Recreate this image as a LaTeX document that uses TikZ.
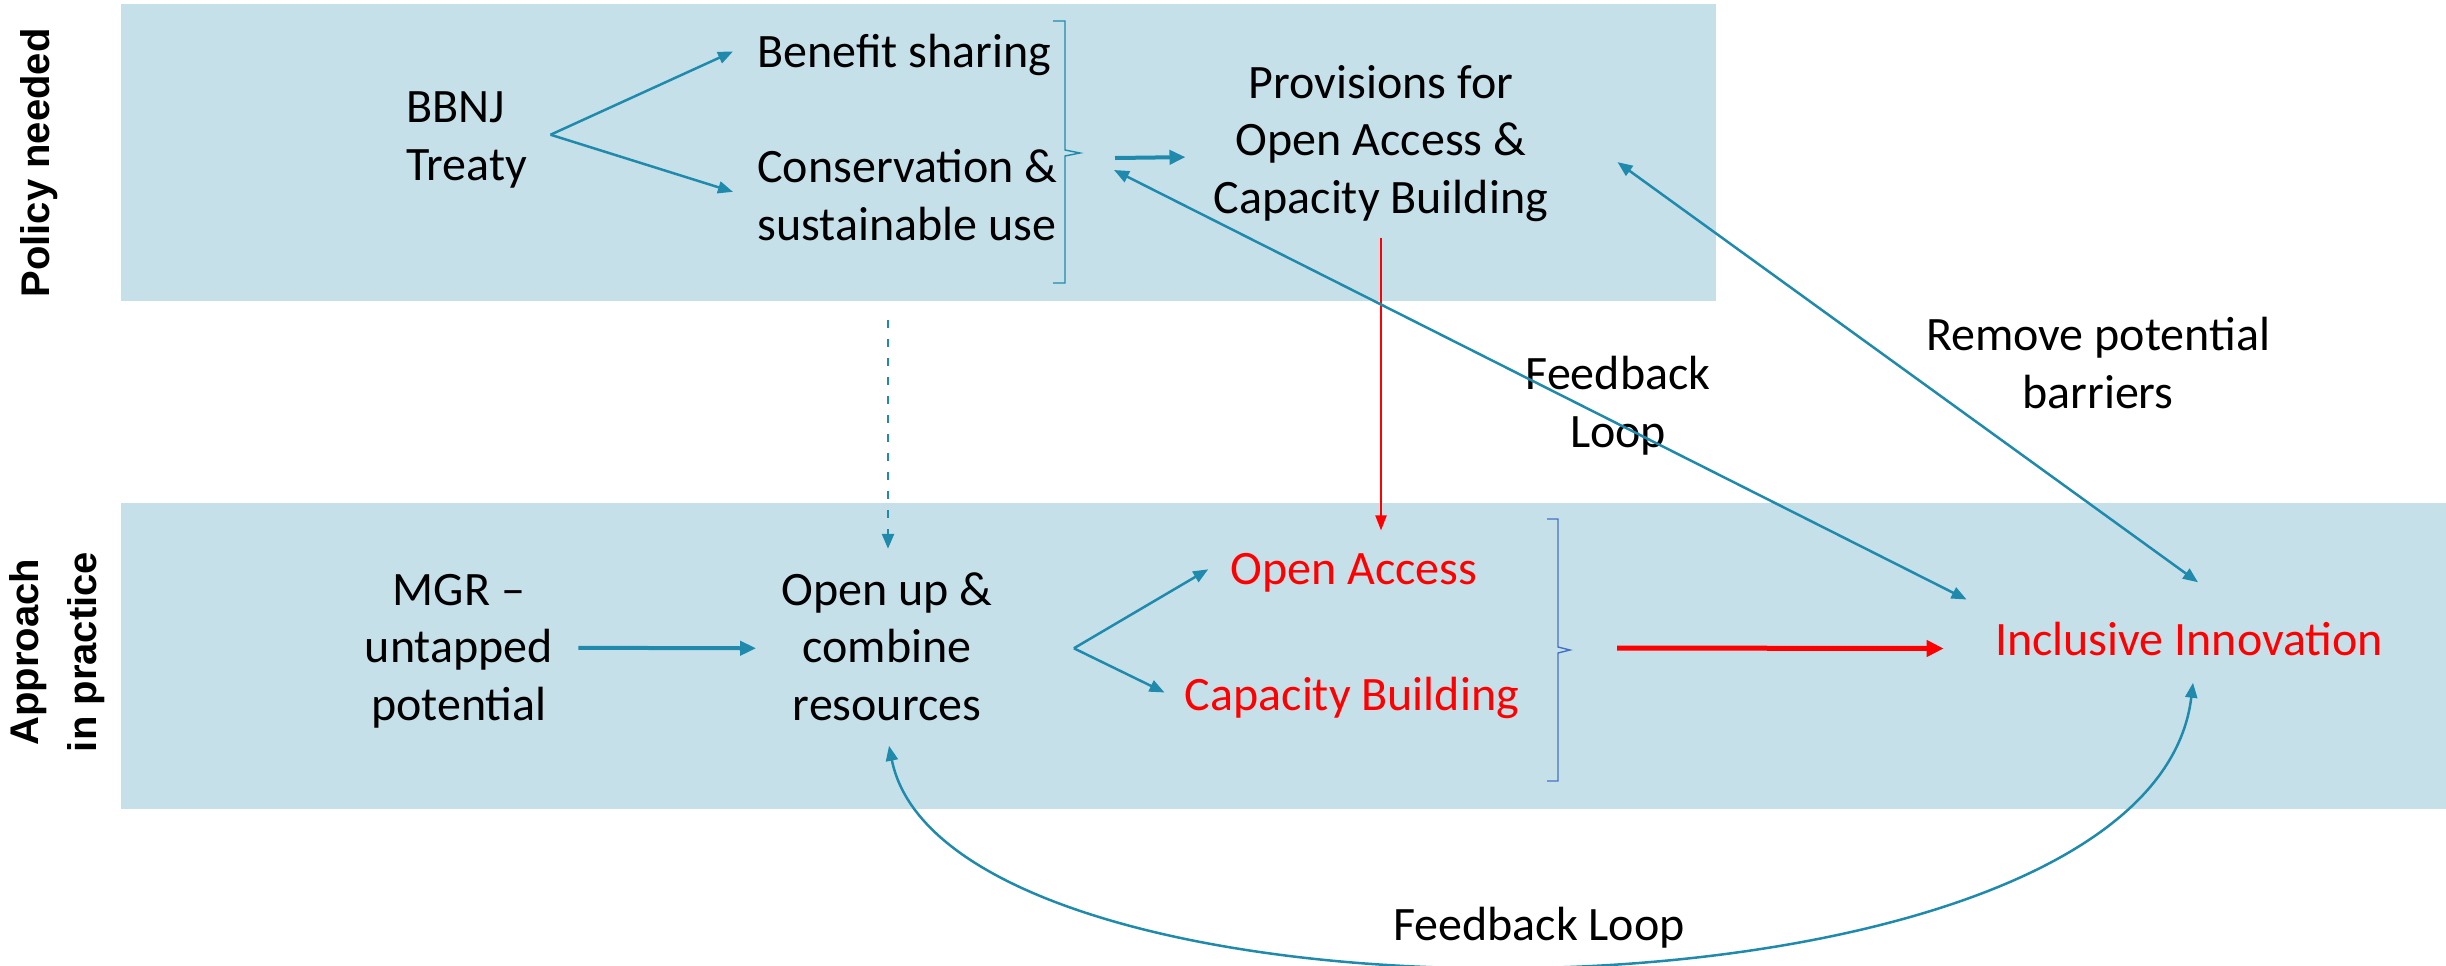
\documentclass[tikz,border=0pt]{standalone}
\usepackage{fontspec}
\setmainfont{Carlito}
\newfontfamily\labfont{Liberation Sans}
\usetikzlibrary{arrows.meta,calc}
\definecolor{bgblue}{RGB}{198,224,234}
\definecolor{teal1}{RGB}{31,138,172}
\definecolor{brkblue}{RGB}{68,114,196}
\definecolor{red1}{RGB}{255,0,0}
\begin{document}
\begin{tikzpicture}[x=0.5pt,y=-0.5pt,
  txt/.style={inner sep=0pt, font=\fontsize{24}{28.75}\selectfont, align=center},
  redtxt/.style={txt, text=red1},
  side/.style={inner sep=0pt, font=\labfont\bfseries\fontsize{20}{29}\selectfont, rotate=90, align=center},
  arr/.style={draw=teal1, line width=1.25pt, -{Triangle[length=7.5pt,width=6pt]}},
  arrb/.style={draw=teal1, line width=1.25pt, {Triangle[length=7.5pt,width=6pt]}-{Triangle[length=7.5pt,width=6pt]}},
  arrthick/.style={draw=teal1, line width=2pt, -{Triangle[length=8pt,width=7pt]}},
  redthin/.style={draw=red1, line width=1pt, -{Triangle[length=7.5pt,width=5.5pt]}},
  redthick/.style={draw=red1, line width=2.5pt, -{Triangle[length=8.5pt,width=8pt]}},
  brk/.style={line width=0.7pt}
]
\useasboundingbox (0,0) rectangle (2446,965);
\fill[white] (0,0) rectangle (2446,965);
% background bands
\fill[bgblue] (121,4) rectangle (1716,301);
\fill[bgblue] (121,503) rectangle (2446,809);

% side labels
\node[side] (pol) at (39,163) {Policy needed};
\node[side] (app) at (57,652) {Approach\\in practice};

% top row texts (base = baseline of last line)
\node[txt, align=left, anchor=base west] (bbnj) at (406,180) {BBNJ\\Treaty};
\node[txt, anchor=base west] (ben) at (757,67) {Benefit sharing};
\node[txt, align=left, anchor=base west] (cons) at (757,240) {Conservation \&\\sustainable use};
\node[txt, anchor=base] (prov) at (1381,213) {Provisions for\\Open Access \&\\Capacity Building};

% bottom row texts
\node[txt, anchor=base] (mgr) at (459,720) {MGR --\\untapped\\potential};
\node[txt, anchor=base] (open) at (887,720) {Open up \&\\combine\\resources};
\node[redtxt, anchor=base] (oa) at (1354,584) {Open Access};
\node[redtxt, anchor=base] (cb) at (1352,710) {Capacity Building};
\node[redtxt, anchor=base] (ii) at (2189,655) {Inclusive Innovation};

% connector labels
\node[txt, anchor=base] (fbl) at (1618,447) {Feedback\\Loop};
\node[txt, anchor=base] (rpb) at (2098,408) {Remove potential\\barriers};
\node[txt, anchor=base] (fbl2) at (1539,940) {Feedback Loop};

% brackets
\coordinate (brk1) at (1080,153);
\draw[brk, teal1] (1053,21) -- (1065,21) -- (1065,150) -- (brk1) -- (1065,156) -- (1065,283) -- (1053,283);
\coordinate (brk2) at (1570,650);
\draw[brk, brkblue] (1547,519) -- (1558,519) -- (1558,647) -- (brk2) -- (1558,653) -- (1558,781) -- (1547,781);

% top arrows
\coordinate (fork1) at ([shift={(23,-5)}]bbnj.east);
\draw[arr] (fork1) -- ([shift={(-24,-3)}]ben.west);
\draw[arr] (fork1) -- ([shift={(-24,-3)}]cons.west);
\draw[arrthick] ([shift={(35,5)}]brk1) -- ([shift={(-28,14)}]prov.west);
\draw[redthin] ([shift={(0,16)}]prov.south) -- ([shift={(0,-22)}]prov.south |- oa.north);

% bottom arrows
\draw[arrthick] ([shift={(25,-3)}]mgr.east) -- ([shift={(-25,2)}]open.west);
\coordinate (fork2) at ([shift={(81,2)}]open.east);
\draw[arr] (fork2) -- ([shift={(-22,-3)}]oa.west);
\draw[arr] (fork2) -- ([shift={(-20,-5)}]cb.west);
\draw[redthick] ([shift={(47,-2)}]brk2) -- ([shift={(-51,10)}]ii.west);

% dashed
\coordinate (dtop) at (888,320);
\draw[arr, dash pattern=on 4pt off 5.5pt] (dtop) -- ([shift={(1,-23)}]open.north);

% feedback / barrier arrows
\draw[arrb] ([shift={(34,17)}]brk1) -- ([shift={(-28,-39)}]ii.west);
\draw[arrb] ([shift={(69,19)}]prov.east) -- ([shift={(9,-39)}]ii.north);
\draw[arrb] ([shift={(2,25)}]open.south) .. controls (950,1050) and (2150,1045) .. ([shift={(4,27)}]ii.south);
\end{tikzpicture}
\end{document}
